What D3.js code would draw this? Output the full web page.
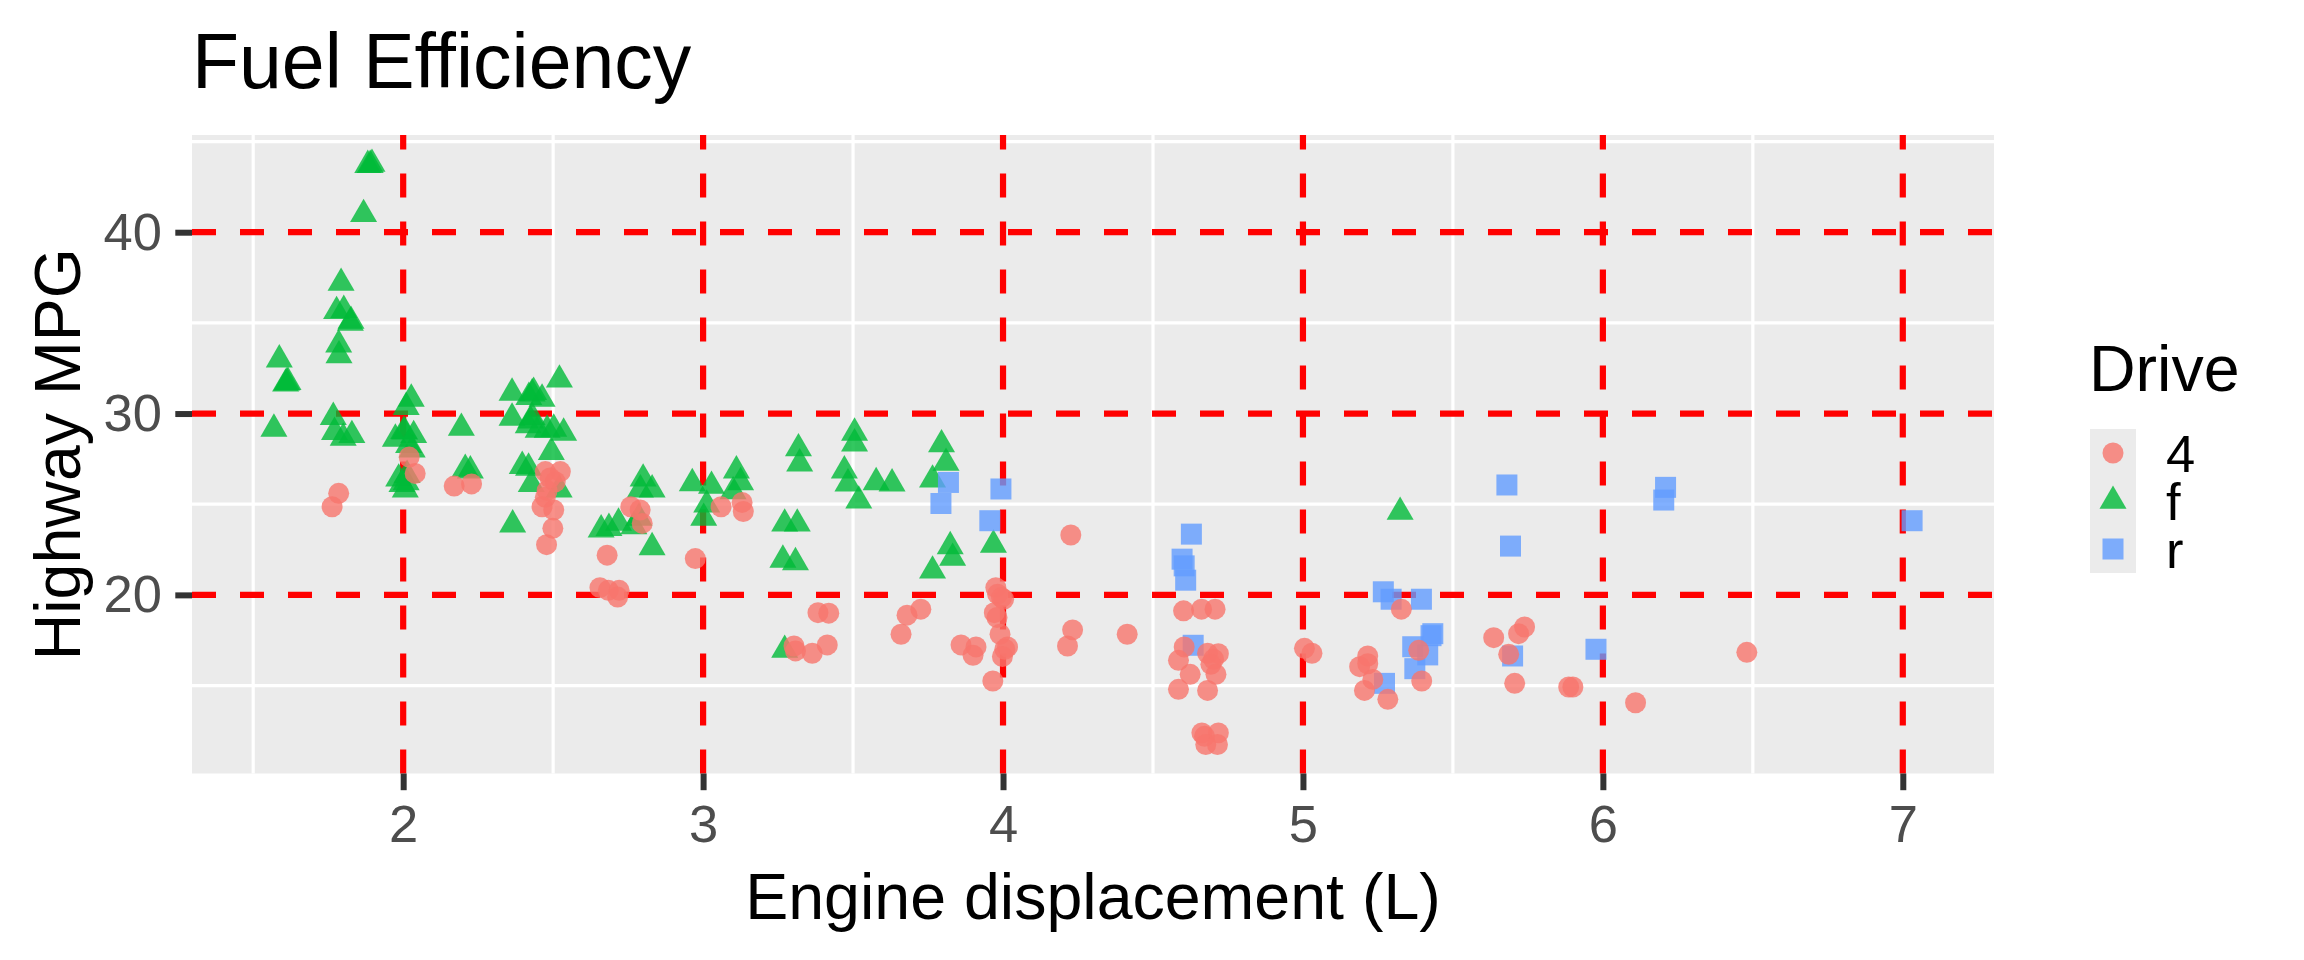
<!DOCTYPE html>
<html>
<head>
<meta charset="utf-8">
<script src="https://cdn.jsdelivr.net/npm/d3@7"></script>
<style>
  body { margin: 0; background: #fff; }
  text { font-family: "Liberation Sans", Arial, sans-serif; }
</style>
</head>
<body>
<div id="chart"></div>
<script>
// data (jittered displ, hwy) per drive type
const drive4 = [
  [1.785,25.6],[1.763,24.86],[2.02,27.6],[2.04,26.7],[2.17,26.0],[2.228,26.12],
  [2.474,26.8],[2.524,26.8],[2.507,26.24],[2.48,25.75],[2.474,25.38],[2.463,24.86],
  [2.502,24.68],[2.499,23.67],[2.478,22.77],[2.49,26.45],[2.759,24.86],[2.79,24.68],
  [2.797,23.94],[2.68,22.19],[2.656,20.4],[2.684,20.25],[2.72,20.25],[2.715,19.88],
  [2.974,22.0],[3.06,24.86],[3.13,25.1],[3.134,24.6],[3.383,19.02],[3.419,18.99],
  [3.68,18.88],[3.726,19.21],[3.66,17.83],[3.303,17.18],[3.308,16.91],[3.364,16.78],
  [3.414,17.24],[3.86,17.24],[3.91,17.13],[3.9,16.67],[3.976,20.4],[3.982,20.04],
  [4.002,19.76],[3.995,19.85],[3.971,19.02],[3.98,18.75],[3.99,17.83],[4.015,17.13],
  [4.006,17.0],[3.998,16.6],[3.966,15.25],[4.226,23.3],[4.232,18.07],[4.215,17.18],
  [4.414,17.83],[4.602,19.12],[4.662,19.21],[4.707,19.21],[4.604,17.13],[4.585,16.39],
  [4.682,16.78],[4.718,16.76],[4.702,16.45],[4.693,16.17],[4.71,15.62],[4.624,15.62],
  [4.585,14.79],[4.682,14.73],[4.663,12.39],[4.718,12.39],[4.672,12.2],[4.676,11.75],
  [4.715,11.75],[5.328,19.21],[5.005,17.05],[5.03,16.78],[5.216,16.63],[5.189,16.04],
  [5.216,16.2],[5.233,15.34],[5.205,14.73],[5.283,14.24],[5.396,15.25],[5.386,16.94],
  [5.636,17.64],[5.719,17.86],[5.739,18.23],[5.686,16.72],[5.706,15.12],[5.886,14.92],
  [5.9,14.92],[6.109,14.05],[6.48,16.83]
];
const driveF = [
  [1.882,43.7],[1.896,43.76],[1.89,43.7],[1.868,40.99],[1.793,37.2],[1.778,35.64],
  [1.802,35.7],[1.824,35.0],[1.826,35.1],[1.785,33.8],[1.786,33.2],[1.587,32.97],
  [1.616,31.73],[1.608,31.64],[1.612,31.7],[1.569,29.15],[1.767,29.8],[1.771,28.97],
  [1.829,28.8],[1.8,28.66],[2.027,30.81],[2.01,30.35],[1.974,28.6],[2.002,29.02],
  [2.005,29.0],[2.035,28.8],[2.03,28.0],[2.018,28.25],[1.985,26.4],[2.013,26.6],
  [2.007,25.8],[1.996,26.1],[2.01,26.2],[2.194,29.2],[2.207,26.94],[2.224,26.85],
  [2.363,31.14],[2.435,31.18],[2.43,31.1],[2.419,30.9],[2.463,30.81],[2.521,31.86],
  [2.363,29.76],[2.417,29.34],[2.425,29.6],[2.43,29.8],[2.502,29.15],[2.535,28.93],
  [2.45,29.1],[2.48,29.1],[2.494,27.87],[2.397,27.1],[2.418,27.0],[2.427,26.1],
  [2.52,25.8],[2.365,23.87],[2.8,26.4],[2.83,25.8],[2.791,25.8],[2.964,26.15],
  [3.028,26.0],[3.111,26.85],[3.125,26.2],[3.1,25.7],[3.012,24.97],[3.002,24.24],
  [2.66,23.6],[2.686,23.68],[2.718,23.97],[2.769,23.78],[2.786,24.24],[2.83,22.62],
  [3.318,28.07],[3.322,27.24],[3.505,28.93],[3.505,28.34],[3.471,26.85],[3.483,26.13],
  [3.519,25.19],[3.577,26.2],[3.63,26.13],[3.272,23.92],[3.314,23.92],[3.266,21.93],
  [3.308,21.79],[3.272,16.96],[3.795,28.29],[3.81,27.27],[3.765,26.35],[3.824,22.67],
  [3.832,22.03],[3.765,21.33],[3.968,22.76],[5.324,24.57]
];
const driveR = [
  [3.818,26.2],[3.793,25.04],[3.993,25.84],[3.956,24.09],[4.628,23.35],[4.597,21.97],
  [4.604,21.6],[4.609,20.81],[4.634,17.22],[5.68,26.06],[5.692,22.69],[6.209,25.93],
  [6.203,25.23],[5.268,20.17],[5.294,19.76],[5.395,19.76],[5.433,17.86],[5.427,17.75],
  [5.366,17.14],[5.416,16.69],[5.373,15.93],[5.272,15.12],[5.699,16.63],[5.977,17.0],
  [7.031,24.09]
];
const driveKeys = ["4", "f", "r"];
const driveColors = ["#F8766D", "#00BA38", "#619CFF"];
const xTicks = [2, 3, 4, 5, 6, 7];
const yTicks = [20, 30, 40];
const xMinor = [1.5, 2.5, 3.5, 4.5, 5.5, 6.5];
const yMinor = [15, 25, 35, 45];

const W = 2304, H = 960;
const panel = { left: 192, right: 1994, top: 135, bottom: 773.5 };

const svg = d3.select("#chart").append("svg")
    .attr("width", W)
    .attr("height", H);

svg.append("rect").attr("width", W).attr("height", H).attr("fill", "#fff");

// points tagged with their drive
const series = [drive4, driveF, driveR];
const points = [];
// f first, then r, then 4 on top
[1, 2, 0].forEach(function(k) {
    series[k].forEach(function(p) { points.push({ displ: p[0], hwy: p[1], drv: driveKeys[k] }); });
});

// ggplot style 5% expansion
function expand(ext) {
    const pad = (ext[1] - ext[0]) * 0.05;
    return [ext[0] - pad, ext[1] + pad];
}

const x = d3.scaleLinear()
    .domain(expand(d3.extent(points, d => d.displ)))
    .range([panel.left, panel.right]);
const y = d3.scaleLinear()
    .domain(expand(d3.extent(points, d => d.hwy)))
    .range([panel.bottom, panel.top]);

const color = d3.scaleOrdinal().domain(driveKeys).range(driveColors);
const shape = d3.scaleOrdinal().domain(driveKeys)
    .range([d3.symbolCircle, d3.symbolTriangle, d3.symbolSquare]);
const shapeSize = d3.scaleOrdinal().domain(driveKeys).range([346, 316, 441]);
const sym = d => d3.symbol().type(shape(d)).size(shapeSize(d))();

// panel background
svg.append("rect")
    .attr("x", panel.left).attr("y", panel.top)
    .attr("width", panel.right - panel.left)
    .attr("height", panel.bottom - panel.top)
    .attr("fill", "#EBEBEB");

// minor grid
const grid = svg.append("g").attr("stroke", "#fff").attr("stroke-width", 3.2);
grid.selectAll("line.vx")
    .data(xMinor.filter(v => x(v) > panel.left && x(v) < panel.right))
    .join("line")
    .attr("x1", d => x(d)).attr("x2", d => x(d))
    .attr("y1", panel.top).attr("y2", panel.bottom);
grid.selectAll("line.hy")
    .data(yMinor.filter(v => y(v) > panel.top && y(v) < panel.bottom))
    .join("line")
    .attr("x1", panel.left).attr("x2", panel.right)
    .attr("y1", d => y(d)).attr("y2", d => y(d));

// red dashed reference lines
const ref = svg.append("g")
    .attr("stroke", "#FF0000")
    .attr("stroke-width", 6.2)
    .attr("stroke-dasharray", "24,24");
ref.selectAll("line.v")
    .data(xTicks)
    .join("line")
    .attr("x1", d => x(d)).attr("x2", d => x(d))
    .attr("y1", panel.bottom).attr("y2", panel.top);
ref.selectAll("line.h")
    .data(yTicks)
    .join("line")
    .attr("x1", panel.left).attr("x2", panel.right)
    .attr("y1", d => y(d)).attr("y2", d => y(d));

// points
svg.append("g")
    .selectAll("path")
    .data(points)
    .join("path")
    .attr("transform", d => `translate(${x(d.displ)},${y(d.hwy)})`)
    .attr("d", d => sym(d.drv))
    .attr("fill", d => color(d.drv))
    .attr("fill-opacity", 0.8);

// axes
const xAxis = svg.append("g")
    .attr("transform", `translate(0,${panel.bottom})`)
    .call(d3.axisBottom(x).tickValues(xTicks).tickFormat(d3.format("d"))
        .tickSize(16.7).tickSizeOuter(0).tickPadding(15));
const yAxis = svg.append("g")
    .attr("transform", `translate(${panel.left},0)`)
    .call(d3.axisLeft(y).tickValues(yTicks).tickFormat(d3.format("d"))
        .tickSize(16.7).tickSizeOuter(0).tickPadding(13.3));
[xAxis, yAxis].forEach(function(a) {
    a.select(".domain").remove();
    a.selectAll(".tick line").attr("stroke", "#333333").attr("stroke-width", 6);
    a.selectAll(".tick text")
        .attr("fill", "#4D4D4D")
        .style("font-size", "52.5px")
        .style("font-family", "'Liberation Sans', Arial, sans-serif");
});

// titles
svg.append("text")
    .attr("x", panel.left)
    .attr("y", 88)
    .style("font-size", "77px")
    .text("Fuel Efficiency");

svg.append("text")
    .attr("x", (panel.left + panel.right) / 2)
    .attr("y", 919)
    .attr("text-anchor", "middle")
    .style("font-size", "64.5px")
    .text("Engine displacement (L)");

svg.append("text")
    .attr("transform", `translate(80,${(panel.top + panel.bottom) / 2}) rotate(-90)`)
    .attr("text-anchor", "middle")
    .style("font-size", "64.5px")
    .text("Highway MPG");

// legend
const legend = svg.append("g");
legend.append("text")
    .attr("x", 2089)
    .attr("y", 391)
    .style("font-size", "64.5px")
    .text("Drive");

const keyH = 48;
legend.selectAll("rect.key")
    .data(driveKeys)
    .join("rect")
    .attr("x", 2090)
    .attr("y", (d, i) => 429 + i * keyH)
    .attr("width", 46)
    .attr("height", keyH)
    .attr("fill", "#EBEBEB");
legend.selectAll("path.key")
    .data(driveKeys)
    .join("path")
    .attr("transform", (d, i) => `translate(2113,${429 + keyH / 2 + i * keyH})`)
    .attr("d", d => sym(d))
    .attr("fill", d => color(d))
    .attr("fill-opacity", 0.8);
legend.selectAll("text.lab")
    .data(driveKeys)
    .join("text")
    .attr("x", 2166)
    .attr("y", (d, i) => 429 + keyH / 2 + i * keyH + 19)
    .style("font-size", "52.5px")
    .text(d => d);
</script>
</body>
</html>
